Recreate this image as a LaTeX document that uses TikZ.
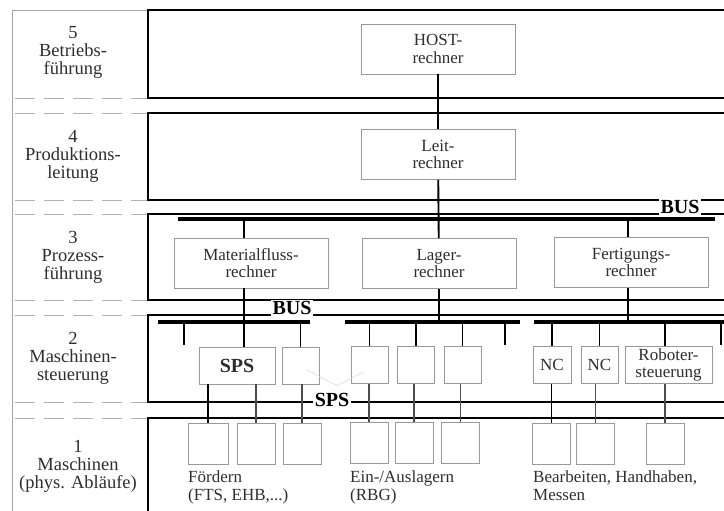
\documentclass[tikz,border=0pt]{standalone}
\usepackage{fontspec}
\setmainfont{Liberation Serif}
\usetikzlibrary{calc}
\begin{document}
\begin{tikzpicture}[x=1pt,y=-1pt,
  every node/.style={font=\fontsize{17}{17.5}\selectfont, text=black!82, inner sep=0pt},
  layerline/.style={line width=2pt, draw=black},
  colline/.style={line width=0.8pt, draw=black!35},
  sepline/.style={line width=0.8pt, draw=black!30, dash pattern=on 20pt off 9pt},
  busline/.style={line width=4.5pt, draw=black},
  conn/.style={line width=1.9pt, draw=black},
  thinconn/.style={line width=1.1pt, draw=black!70},
  faint/.style={line width=0.6pt, draw=black!15},
  comp/.style={draw=black!40, line width=0.9pt, fill=white, align=center,
    minimum width=154pt, minimum height=50pt},
  ctl/.style={draw=black!40, line width=0.9pt, fill=white, align=center,
    minimum width=37pt, minimum height=37pt},
  dev/.style={draw=black!40, line width=0.9pt, fill=white,
    minimum width=38pt, minimum height=41pt},
  lvl/.style={align=center, font=\fontsize{18.5}{18}\selectfont},
  tag/.style={font=\fontsize{20}{20}\bfseries\selectfont, text=black, fill=white, inner sep=1.5pt},
  caption/.style={align=left, anchor=north west}]
\useasboundingbox (0,0) rectangle (724,511);
\clip (0,0) rectangle (724,511);

% level column on the left
\draw[colline] (148,10) -- (12,10) -- (12,520);
\foreach \yy in {98,113,200,214,300,315,402,418}
  \draw[sepline] (15,\yy) -- (148,\yy);

% level frames
\draw[layerline] (740,10) -- (148,10) -- (148,98) -- (740,98);
\draw[layerline] (740,113) -- (148,113) -- (148,200) -- (740,200);
\draw[layerline] (740,214) -- (148,214) -- (148,300) -- (740,300);
\draw[layerline] (740,315) -- (148,315) -- (148,402) -- (740,402);
\draw[layerline] (740,418) -- (148,418) -- (148,520);

% level names
\node[lvl] (l5) at (73,52) {5\\Betriebs-\\führung};
\node[lvl] (l4) at (73,156) {4\\Produktions-\\leitung};
\node[lvl] (l3) at (73,257) {3\\Prozess-\\führung};
\node[lvl] (l2) at (73,358) {2\\Maschinen-\\steuerung};
\node[lvl] (l1) at (78,466) {1\\Maschinen\\(phys. Abläufe)};

% bus bars and columns
\coordinate (busL) at (178,219);
\coordinate (busR) at (715,219);
\coordinate (b1L) at (158,322);
\coordinate (b1R) at (310,322);
\coordinate (b2L) at (345,322);
\coordinate (b2R) at (520,322);
\coordinate (b3L) at (534,322);
\coordinate (b3R) at (740,322);
\coordinate (mcol) at (244,0);
\coordinate (fcol) at (628,0);
\coordinate (stub1) at (184,345);
\coordinate (stub2) at (505,345);
\coordinate (stub3) at (721,345);

% computers
\node[comp] (host) at (438,49) {HOST-\\rechner};
\node[comp] (leit) at (438,154.5) {Leit-\\rechner};
\node[comp] (mat) at (251,263) {Materialfluss-\\rechner};
\node[comp] (lager) at (439,263.5) {Lager-\\rechner};
\node[comp] (fert) at (631,262.5) {Fertigungs-\\rechner};

% machine controls
\node[ctl, minimum width=76pt] (sps) at (237,365.5) {\fontsize{20}{20}\bfseries\selectfont SPS};
\node[ctl] (s2) at (300.5,365.5) {};
\node[ctl] (m1) at (369.5,365) {};
\node[ctl] (m2) at (416,365) {};
\node[ctl] (m3) at (462.5,365) {};
\node[ctl, minimum width=38pt] (nc1) at (552,365) {NC};
\node[ctl] (nc2) at (599.5,365) {NC};
\node[ctl, minimum width=87pt] (rob) at (668.5,365) {Roboter-\\steuerung};

% machines
\node[dev, minimum width=40pt] (f1) at (208,443.5) {};
\node[dev] (f2) at (256,443.5) {};
\node[dev] (f3) at (302,443.5) {};
\node[dev] (e1) at (369,443) {};
\node[dev] (e2) at (414,443) {};
\node[dev] (e3) at (460.5,443) {};
\node[dev] (g1) at (551.5,443.5) {};
\node[dev] (g2) at (595.5,443.5) {};
\node[dev] (g3) at (665,443.5) {};

% vertical links between levels
\draw[conn] (host) -- (leit);
\draw[conn] (leit) -- (lager);
\draw[conn] (mat.north -| mcol) -- (busL -| mcol);
\draw[conn] (fert.north -| fcol) -- (busL -| fcol);
\draw[conn] (mat.south -| mcol) -- (sps.north -| mcol);
\draw[conn] (lager.south) -- (lager.south |- b2L);
\draw[conn] (fert.south -| fcol) -- (b3L -| fcol);
\draw[busline] (busL) -- (busR);
\draw[busline] (b1L) -- (b1R);
\draw[busline] (b2L) -- (b2R);
\draw[busline] (b3L) -- (b3R);

% drops from the field buses
\draw[conn] (stub1 |- b1L) -- (stub1);
\draw[conn] (s2.north) -- (s2.north |- b1L);
\draw[conn] (m1.north) -- (m1.north |- b2L);
\draw[conn] (m2.north) -- (m2.north |- b2L);
\draw[conn] (m3.north) -- (m3.north |- b2L);
\draw[conn] (stub2 |- b2L) -- (stub2);
\draw[conn] (nc1.north) -- (nc1.north |- b3L);
\draw[conn] (nc2.north) -- (nc2.north |- b3L);
\draw[conn] (rob.north -| g3.north) -- (b3L -| g3.north);
\draw[conn] (stub3 |- b3L) -- (stub3);

% controls to machines
\draw[conn] (f1.north) -- (f1.north |- sps.south);
\draw[thinconn] (f2.north) -- (f2.north |- sps.south);
\draw[thinconn] (f3.north) -- (f3.north |- s2.south);
\draw[thinconn] (e1.north) -- (e1.north |- m1.south);
\draw[thinconn] (e2.north) -- (e2.north |- m2.south);
\draw[thinconn] (e3.north) -- (e3.north |- m3.south);
\draw[conn] (g1.north) -- (g1.north |- nc1.south);
\draw[thinconn] (g2.north) -- (g2.north |- nc2.south);
\draw[thinconn] (g3.north) -- (g3.north |- rob.south);

% bus tags
\node[tag] (bustop) at (680,207) {BUS};
\node[tag] (buslow) at (292,308) {BUS};
\node[tag] (spstag) at (332,400) {SPS};
\draw[faint] ($(s2.center)+(6,4)$) -- ($(spstag.north)+(5,-6)$) -- ($(m1.center)+(-6,7)$);

% machine groups
\node[caption] (cap1) at (188,471) {Fördern\\(FTS, EHB,...)};
\node[caption] (cap2) at (350,471) {Ein-/Auslagern\\(RBG)};
\node[caption] (cap3) at (533,471) {Bearbeiten, Handhaben,\\Messen};
\end{tikzpicture}
\end{document}
